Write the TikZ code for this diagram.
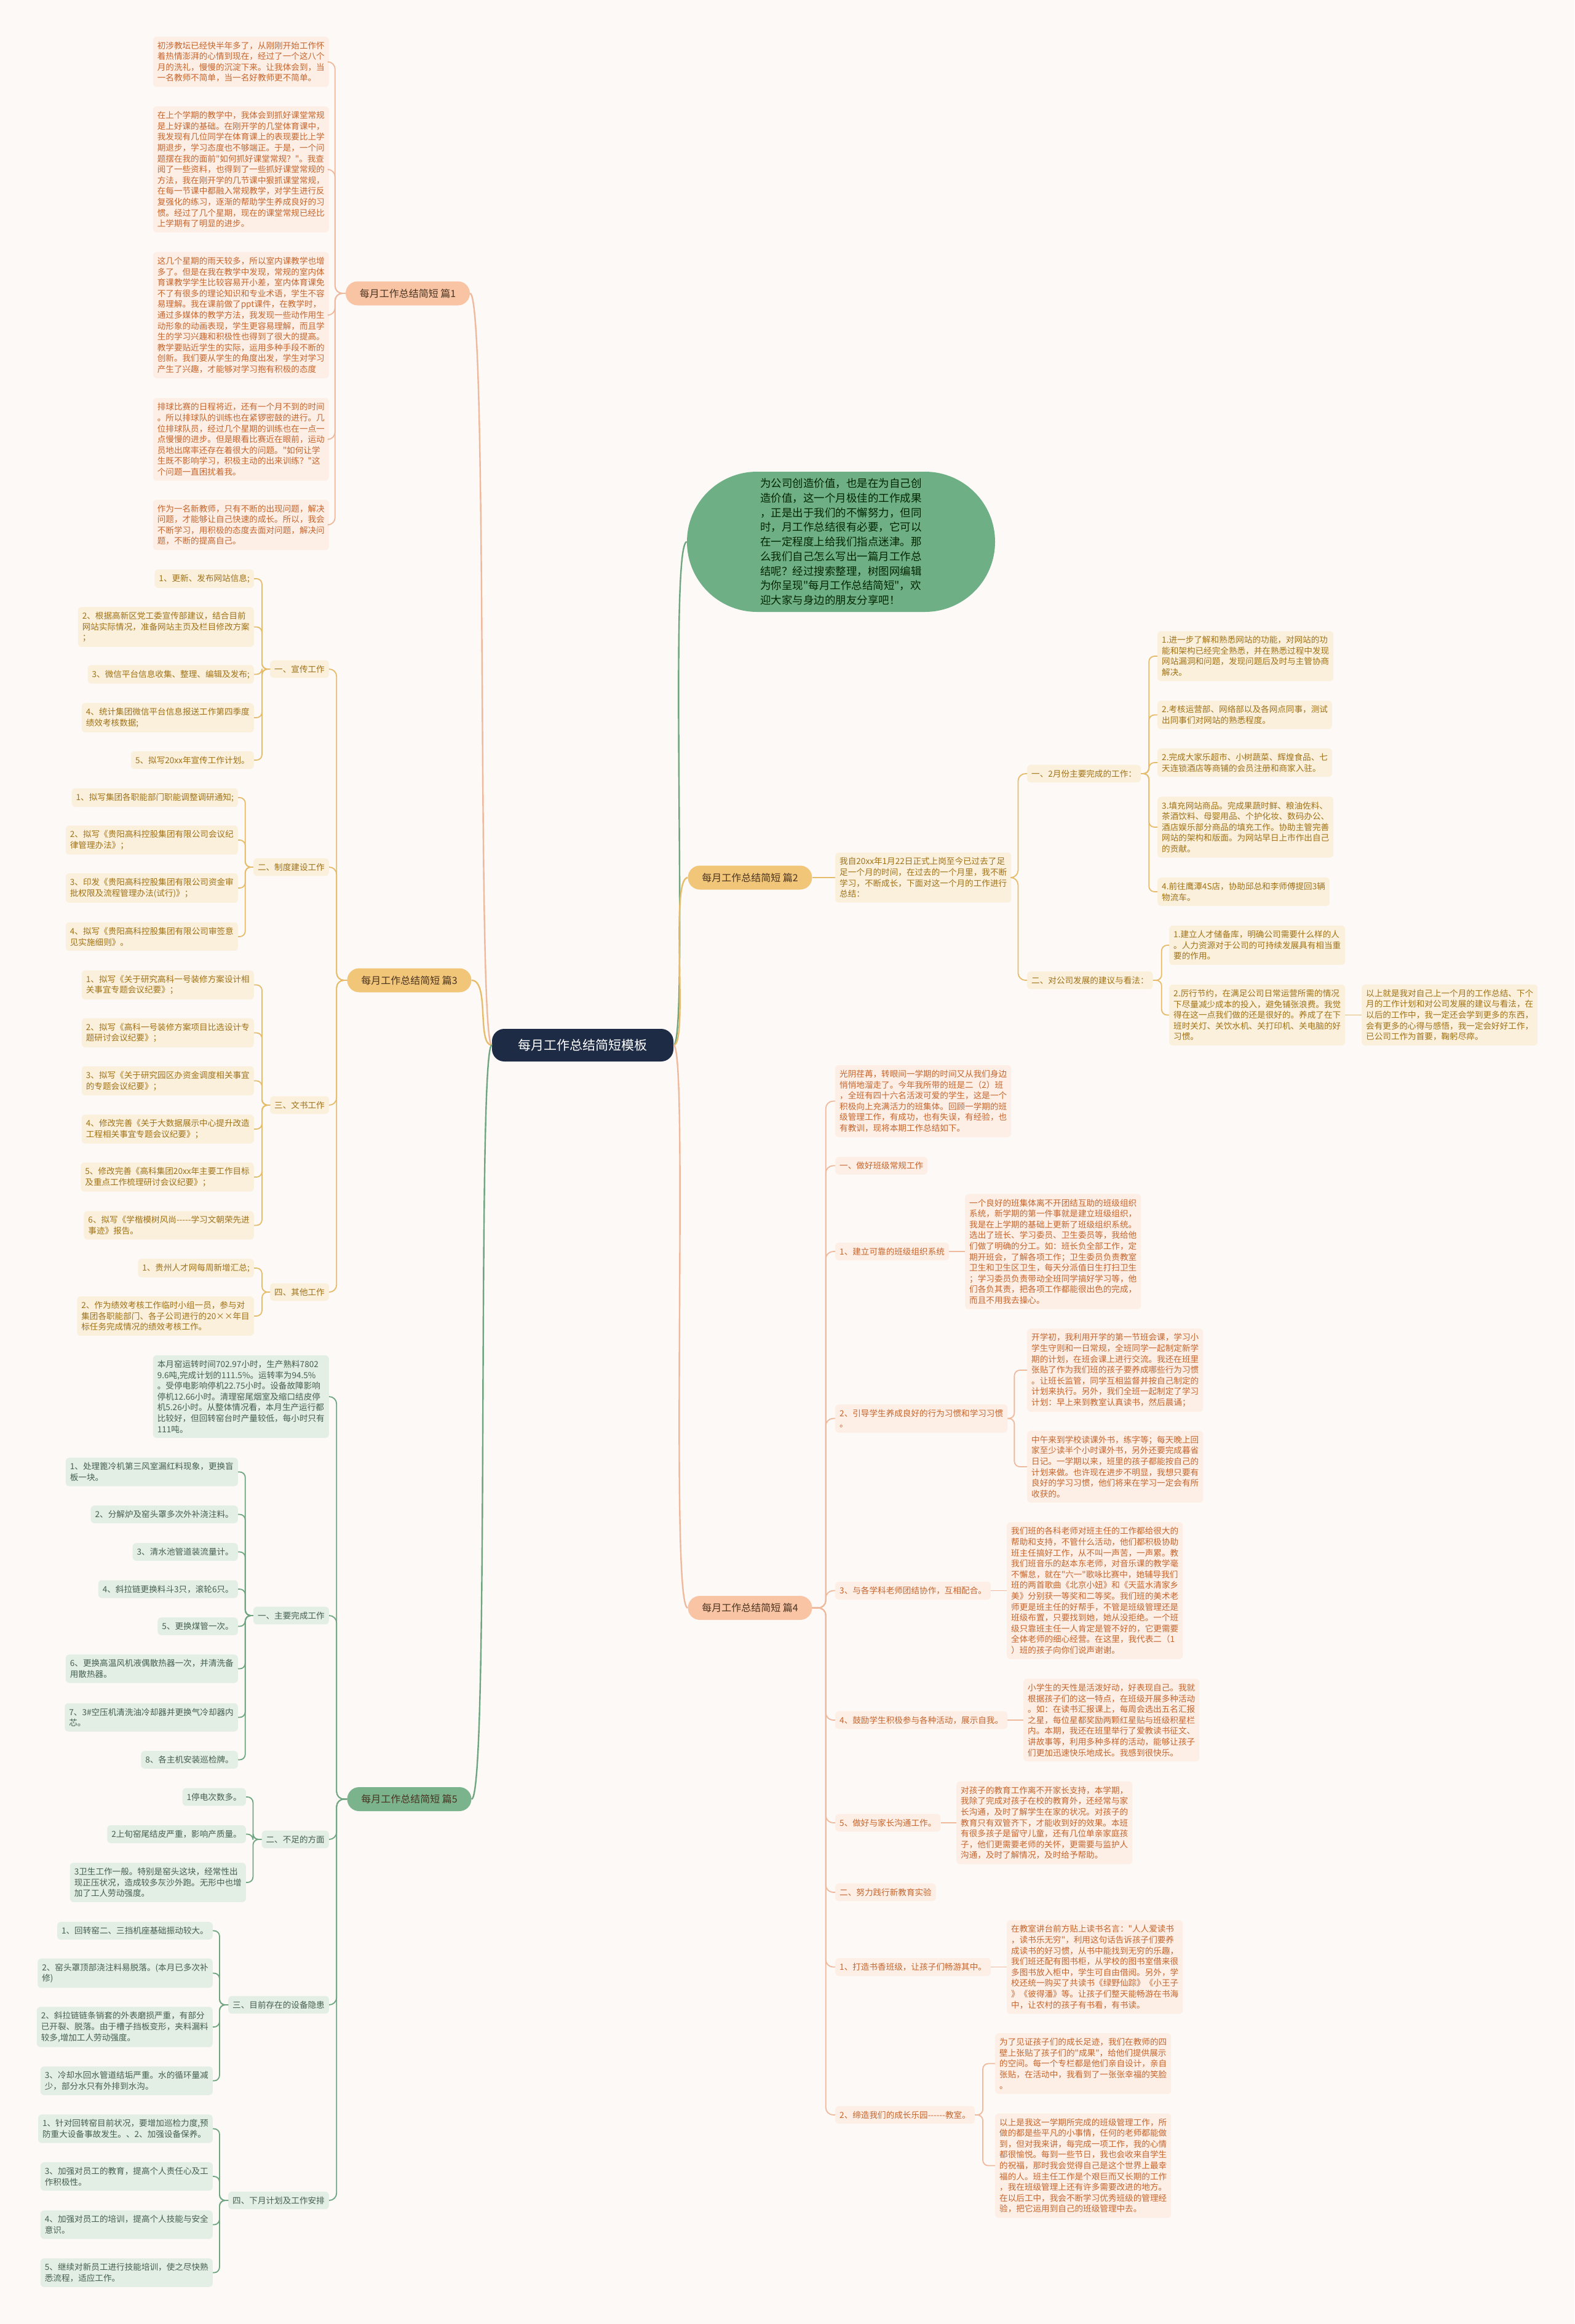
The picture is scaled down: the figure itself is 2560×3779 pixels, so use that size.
\documentclass[tikz,border=0pt]{standalone}
\usepackage{fontspec}
\newfontfamily\cjk{Noto Sans CJK SC}
\definecolor{bg}{HTML}{FCF9F6}
\definecolor{sline}{HTML}{EEB99D}
\definecolor{sfill}{HTML}{FDEFE5}
\definecolor{stext}{HTML}{C5652E}
\definecolor{spill}{HTML}{F8C4A4}
\definecolor{gline}{HTML}{E6BC6A}
\definecolor{gfill}{HTML}{FBF0DC}
\definecolor{gtext}{HTML}{A07218}
\definecolor{gpill}{HTML}{F1C679}
\definecolor{nline}{HTML}{6FA681}
\definecolor{nfill}{HTML}{E3EEE4}
\definecolor{ntext}{HTML}{45604F}
\definecolor{npill}{HTML}{7BB38C}
\definecolor{introc}{HTML}{6FAF86}
\definecolor{rootc}{HTML}{1E2B45}
\definecolor{pilltext}{HTML}{4A3320}
\newcommand\lf{\cjk\fontsize{13.6}{17.6}\selectfont}
\newcommand\hy{-\kern0pt}
\begin{document}
\begin{tikzpicture}[x=1pt,y=-1pt,
  leaf/.style={rounded corners=6pt, inner xsep=7pt, inner ysep=8pt, align=left, font=\lf},
  lS/.style={leaf, fill=sfill, text=stext},
  lG/.style={leaf, fill=gfill, text=gtext},
  lN/.style={leaf, fill=nfill, text=ntext},
  cS/.style={draw=sline, line width=1.8pt, rounded corners=9pt},
  cG/.style={draw=gline, line width=1.8pt, rounded corners=9pt},
  cN/.style={draw=nline, line width=1.8pt, rounded corners=9pt},
  mS/.style={draw=sline, line width=2.4pt},
  mG/.style={draw=gline, line width=2.4pt},
  mN/.style={draw=nline, line width=2.4pt},
  pill/.style={rounded corners=19.5pt, minimum height=39pt, minimum width=202pt, inner sep=0pt, text=pilltext, font=\cjk\fontsize{16}{18}\selectfont}
]
\path[fill=bg] (0,0) rectangle (2560,3779);

% ---------- root and intro ----------
\node[fill=rootc, text=white, rounded corners=20pt, minimum width=295pt, minimum height=53pt, inner sep=0pt, font=\cjk\fontsize{21}{24}\selectfont] (root) at (947.5,1699.5) {每月工作总结简短模板};
\node[fill=introc, text=black!85!green, rounded corners=114pt, minimum width=501pt, minimum height=228pt, align=left, font=\cjk\fontsize{17.5}{23.7}\selectfont] (intro) at (1367.5,881) {为公司创造价值，也是在为自己创\\造价值，这一个月极佳的工作成果\\，正是出于我们的不懈努力，但同\\时，月工作总结很有必要，它可以\\在一定程度上给我们指点迷津。那\\么我们自己怎么写出一篇月工作总\\结呢？经过搜索整理，树图网编辑\\为你呈现"每月工作总结简短"，欢\\迎大家与身边的朋友分享吧！};

% ---------- main branches ----------
\node[pill, fill=spill] (p1) at (663,477) {每月工作总结简短 篇1};
\node[pill, fill=gpill] (p3) at (665.5,1594) {每月工作总结简短 篇3};
\node[pill, fill=npill] (p5) at (665.5,2925.5) {每月工作总结简短 篇5};
\node[pill, fill=gpill] (p2) at (1219.5,1427) {每月工作总结简短 篇2};
\node[pill, fill=spill] (p4) at (1219.5,2614.5) {每月工作总结简短 篇4};

% ---------- 篇1 ----------
\node[lS, anchor=east] (a1) at (535,100.5) {初涉教坛已经快半年多了，从刚刚开始工作怀\\着热情澎湃的心情到现在，经过了一个这八个\\月的洗礼，慢慢的沉淀下来。让我体会到，当\\一名教师不简单，当一名好教师更不简单。};
\node[lS, anchor=east] (a2) at (535,275.5) {在上个学期的教学中，我体会到抓好课堂常规\\是上好课的基础。在刚开学的几堂体育课中，\\我发现有几位同学在体育课上的表现要比上学\\期退步，学习态度也不够端正。于是，一个问\\题摆在我的面前"如何抓好课堂常规？"。我查\\阅了一些资料，也得到了一些抓好课堂常规的\\方法，我在刚开学的几节课中狠抓课堂常规，\\在每一节课中都融入常规教学，对学生进行反\\复强化的练习，逐渐的帮助学生养成良好的习\\惯。经过了几个星期，现在的课堂常规已经比\\上学期有了明显的进步。};
\node[lS, anchor=east] (a3) at (535,512.5) {这几个星期的雨天较多，所以室内课教学也增\\多了。但是在我在教学中发现，常规的室内体\\育课教学学生比较容易开小差，室内体育课免\\不了有很多的理论知识和专业术语，学生不容\\易理解。我在课前做了ppt课件，在教学时，\\通过多媒体的教学方法，我发现一些动作用生\\动形象的动画表现，学生更容易理解，而且学\\生的学习兴趣和积极性也得到了很大的提高。\\教学要贴近学生的实际，运用多种手段不断的\\创新。我们要从学生的角度出发，学生对学习\\产生了兴趣，才能够对学习抱有积极的态度};
\node[lS, anchor=east] (a4) at (535,714.5) {排球比赛的日程将近，还有一个月不到的时间\\。所以排球队的训练也在紧锣密鼓的进行。几\\位排球队员，经过几个星期的训练也在一点一\\点慢慢的进步。但是眼看比赛近在眼前，运动\\员地出席率还存在着很大的问题。"如何让学\\生既不影响学习，积极主动的出来训练？"这\\个问题一直困扰着我。};
\node[lS, anchor=east] (a5) at (535,853.5) {作为一名新教师，只有不断的出现问题，解决\\问题，才能够让自己快速的成长。所以，我会\\不断学习，用积极的态度去面对问题，解决问\\题，不断的提高自己。};

% ---------- 篇3 ----------
\node[lG, anchor=east] (b1) at (535,1088) {一、宣传工作};
\node[lG, anchor=east] (b11) at (413,941) {1、更新、发布网站信息;};
\node[lG, anchor=east] (b12) at (413,1019.5) {2、根据高新区党工委宣传部建议，结合目前\\网站实际情况，准备网站主页及栏目修改方案\\；};
\node[lG, anchor=east] (b13) at (413,1096.5) {3、微信平台信息收集、整理、编辑及发布;};
\node[lG, anchor=east] (b14) at (413,1167) {4、统计集团微信平台信息报送工作第四季度\\绩效考核数据;};
\node[lG, anchor=east] (b15) at (413,1236) {5、拟写20xx年宣传工作计划。};
\node[lG, anchor=east] (b2) at (535,1410) {二、制度建设工作};
\node[lG, anchor=east] (b21) at (387,1297) {1、拟写集团各职能部门职能调整调研通知;};
\node[lG, anchor=east] (b22) at (387,1366) {2、拟写《贵阳高科控股集团有限公司会议纪\\律管理办法》；};
\node[lG, anchor=east] (b23) at (387,1444) {3、印发《贵阳高科控股集团有限公司资金审\\批权限及流程管理办法(试行)》；};
\node[lG, anchor=east] (b24) at (387,1523) {4、拟写《贵阳高科控股集团有限公司审签意\\见实施细则》。};
\node[lG, anchor=east] (b3) at (535,1797) {三、文书工作};
\node[lG, anchor=east] (b31) at (413,1601.5) {1、拟写《关于研究高科一号装修方案设计相\\关事宜专题会议纪要》；};
\node[lG, anchor=east] (b32) at (413,1679.5) {2、拟写《高科一号装修方案项目比选设计专\\题研讨会议纪要》；};
\node[lG, anchor=east] (b33) at (413,1757.5) {3、拟写《关于研究园区办资金调度相关事宜\\的专题会议纪要》；};
\node[lG, anchor=east] (b34) at (413,1836) {4、修改完善《关于大数据展示中心提升改造\\工程相关事宜专题会议纪要》；};
\node[lG, anchor=east] (b35) at (413,1914) {5、修改完善《高科集团20xx年主要工作目标\\及重点工作梳理研讨会议纪要》；};
\node[lG, anchor=east] (b36) at (413,1992.5) {6、拟写《学楷模树风尚\hy\hy\hy\hy-学习文朝荣先进\\事迹》报告。};
\node[lG, anchor=east] (b4) at (535,2101) {四、其他工作};
\node[lG, anchor=east] (b41) at (413,2062) {1、贵州人才网每周新增汇总;};
\node[lG, anchor=east] (b42) at (413,2140) {2、作为绩效考核工作临时小组一员，参与对\\集团各职能部门、各子公司进行的20××年目\\标任务完成情况的绩效考核工作。};

% ---------- 篇5 ----------
\node[lN, anchor=east] (c0) at (535,2271) {本月窑运转时间702.97小时，生产熟料7802\\9.6吨,完成计划的111.5\%。运转率为94.5\%\\。受停电影响停机22.75小时。设备故障影响\\停机12.66小时。清理窑尾烟室及缩口结皮停\\机5.26小时。从整体情况看，本月生产运行都\\比较好，但回转窑台时产量较低，每小时只有\\111吨。};
\node[lN, anchor=east] (c1) at (535,2627) {一、主要完成工作};
\node[lN, anchor=east] (c11) at (387,2393.5) {1、处理篦冷机第三风室漏红料现象，更换盲\\板一块。};
\node[lN, anchor=east] (c12) at (387,2462.5) {2、分解炉及窑头罩多次外补浇注料。};
\node[lN, anchor=east] (c13) at (387,2523.5) {3、清水池管道装流量计。};
\node[lN, anchor=east] (c14) at (387,2584) {4、斜拉链更换料斗3只，滚轮6只。};
\node[lN, anchor=east] (c15) at (387,2644.5) {5、更换煤管一次。};
\node[lN, anchor=east] (c16) at (387,2713.5) {6、更换高温风机液偶散热器一次，并清洗备\\用散热器。};
\node[lN, anchor=east] (c17) at (387,2792.5) {7、3\#空压机清洗油冷却器并更换气冷却器内\\芯。};
\node[lN, anchor=east] (c18) at (387,2861.5) {8、各主机安装巡检牌。};
\node[lN, anchor=east] (c2) at (535,2991) {二、不足的方面};
\node[lN, anchor=east] (c21) at (400,2922) {1停电次数多。};
\node[lN, anchor=east] (c22) at (400,2982.5) {2上旬窑尾结皮严重，影响产质量。};
\node[lN, anchor=east] (c23) at (400,3061) {3卫生工作一般。特别是窑头这块，经常性出\\现正压状况，造成较多灰沙外跑。无形中也增\\加了工人劳动强度。};
\node[lN, anchor=east] (c3) at (535,3260) {三、目前存在的设备隐患};
\node[lN, anchor=east] (c31) at (346,3139.5) {1、回转窑二、三挡机座基础振动较大。};
\node[lN, anchor=east] (c32) at (346,3208.5) {2、窑头罩顶部浇注料易脱落。(本月已多次补\\修)};
\node[lN, anchor=east] (c33) at (346,3296) {2、斜拉链链条销套的外表磨损严重，有部分\\已开裂、脱落。由于槽子挡板变形，夹料漏料\\较多,增加工人劳动强度。};
\node[lN, anchor=east] (c34) at (346,3383.5) {3、冷却水回水管道结垢严重。水的循环量减\\少，部分水只有外排到水沟。};
\node[lN, anchor=east] (c4) at (535,3578) {四、下月计划及工作安排};
\node[lN, anchor=east] (c41) at (346,3461.5) {1、针对回转窑目前状况，要增加巡检力度,预\\防重大设备事故发生。、2、加强设备保养。};
\node[lN, anchor=east] (c42) at (346,3539) {3、加强对员工的教育，提高个人责任心及工\\作积极性。};
\node[lN, anchor=east] (c43) at (346,3617.5) {4、加强对员工的培训，提高个人技能与安全\\意识。};
\node[lN, anchor=east] (c44) at (346,3695.5) {5、继续对新员工进行技能培训，使之尽快熟\\悉流程，适应工作。};

% ---------- 篇2 ----------
\node[lG, anchor=west] (d0) at (1358,1427) {我自20xx年1月22日正式上岗至今已过去了足\\足一个月的时间，在过去的一个月里，我不断\\学习，不断成长，下面对这一个月的工作进行\\总结：};
\node[lG, anchor=west] (d1) at (1670,1258) {一、2月份主要完成的工作：};
\node[lG, anchor=west] (d11) at (1882,1067) {1.进一步了解和熟悉网站的功能，对网站的功\\能和架构已经完全熟悉，并在熟悉过程中发现\\网站漏洞和问题，发现问题后及时与主管协商\\解决。};
\node[lG, anchor=west] (d12) at (1882,1162.5) {2.考核运营部、网络部以及各网点同事，测试\\出同事们对网站的熟悉程度。};
\node[lG, anchor=west] (d13) at (1882,1240) {2.完成大家乐超市、小树蔬菜、辉煌食品、七\\天连锁酒店等商铺的会员注册和商家入驻。};
\node[lG, anchor=west] (d14) at (1882,1345) {3.填充网站商品。完成果蔬时鲜、粮油佐料、\\茶酒饮料、母婴用品、个护化妆、数码办公、\\酒店娱乐部分商品的填充工作。协助主管完善\\网站的架构和版面。为网站早日上市作出自己\\的贡献。};
\node[lG, anchor=west] (d15) at (1882,1450) {4.前往鹰潭4S店，协助邱总和李师傅提回3辆\\物流车。};
\node[lG, anchor=west] (d2) at (1670,1594) {二、对公司发展的建议与看法：};
\node[lG, anchor=west] (d21) at (1901,1537) {1.建立人才储备库，明确公司需要什么样的人\\。人力资源对于公司的可持续发展具有相当重\\要的作用。};
\node[lG, anchor=west] (d22) at (1901,1650.5) {2.厉行节约，在满足公司日常运营所需的情况\\下尽量减少成本的投入，避免铺张浪费。我觉\\得在这一点我们做的还是很好的。养成了在下\\班时关灯、关饮水机、关打印机、关电脑的好\\习惯。};
\node[lG, anchor=west] (d3) at (2214,1650.5) {以上就是我对自己上一个月的工作总结、下个\\月的工作计划和对公司发展的建议与看法，在\\以后的工作中，我一定还会学到更多的东西，\\会有更多的心得与感悟，我一定会好好工作，\\已公司工作为首要，鞠躬尽瘁。};

% ---------- 篇4 ----------
\node[lS, anchor=west] (e0) at (1358,1790.5) {光阴荏苒，转眼间一学期的时间又从我们身边\\悄悄地溜走了。今年我所带的班是二（2）班\\，全班有四十六名活泼可爱的学生，这是一个\\积极向上充满活力的班集体。回顾一学期的班\\级管理工作，有成功，也有失误，有经验，也\\有教训，现将本期工作总结如下。};
\node[lS, anchor=west] (e1) at (1358,1895.5) {一、做好班级常规工作};
\node[lS, anchor=west] (e2) at (1358,2035) {1、建立可靠的班级组织系统};
\node[lS, anchor=west] (e2a) at (1569,2035) {一个良好的班集体离不开团结互助的班级组织\\系统，新学期的第一件事就是建立班级组织，\\我是在上学期的基础上更新了班级组织系统。\\选出了班长、学习委员、卫生委员等，我给他\\们做了明确的分工。如：班长负全部工作，定\\期开班会，了解各项工作；卫生委员负责教室\\卫生和卫生区卫生，每天分派值日生打扫卫生\\；学习委员负责带动全班同学搞好学习等，他\\们各负其责，把各项工作都能很出色的完成，\\而且不用我去操心。};
\node[lS, anchor=west] (e3) at (1358,2306.5) {2、引导学生养成良好的行为习惯和学习习惯\\。};
\node[lS, anchor=west] (e3a) at (1670,2228) {开学初，我利用开学的第一节班会课，学习小\\学生守则和一日常规，全班同学一起制定新学\\期的计划，在班会课上进行交流。我还在班里\\张贴了作为我们班的孩子要养成哪些行为习惯\\。让班长监管，同学互相监督并按自己制定的\\计划来执行。另外，我们全班一起制定了学习\\计划：早上来到教室认真读书，然后晨诵；};
\node[lS, anchor=west] (e3b) at (1670,2385) {中午来到学校读课外书，练字等；每天晚上回\\家至少读半个小时课外书，另外还要完成暮省\\日记。一学期以来，班里的孩子都能按自己的\\计划来做。也许现在进步不明显，我想只要有\\良好的学习习惯，他们将来在学习一定会有所\\收获的。};
\node[lS, anchor=west] (e4) at (1358,2586.5) {3、与各学科老师团结协作，互相配合。};
\node[lS, anchor=west] (e4a) at (1637,2586.5) {我们班的各科老师对班主任的工作都给很大的\\帮助和支持，不管什么活动，他们都积极协助\\班主任搞好工作，从不叫一声苦，一声累。教\\我们班音乐的赵本东老师，对音乐课的教学毫\\不懈怠，就在"六一"歌咏比赛中，她辅导我们\\班的两首歌曲《北京小妞》和《天蓝水清家乡\\美》分别获一等奖和二等奖。我们班的美术老\\师更是班主任的好帮手，不管是班级管理还是\\班级布置，只要找到她，她从没拒绝。一个班\\级只靠班主任一人肯定是管不好的，它更需要\\全体老师的细心经营。在这里，我代表二（1\\）班的孩子向你们说声谢谢。};
\node[lS, anchor=west] (e5) at (1358,2797) {4、鼓励学生积极参与各种活动，展示自我。};
\node[lS, anchor=west] (e5a) at (1664,2797) {小学生的天性是活泼好动，好表现自己。我就\\根据孩子们的这一特点，在班级开展多种活动\\。如：在读书汇报课上，每周会选出五名汇报\\之星，每位星都奖励两颗红星贴与班级积星栏\\内。本期，我还在班里举行了爱教读书征文、\\讲故事等，利用多种多样的活动，能够让孩子\\们更加迅速快乐地成长。我感到很快乐。};
\node[lS, anchor=west] (e6) at (1358,2964) {5、做好与家长沟通工作。};
\node[lS, anchor=west] (e6a) at (1555,2964) {对孩子的教育工作离不开家长支持，本学期，\\我除了完成对孩子在校的教育外，还经常与家\\长沟通，及时了解学生在家的状况。对孩子的\\教育只有双管齐下，才能收到好的效果。本班\\有很多孩子是留守儿童，还有几位单亲家庭孩\\子，他们更需要老师的关怀，更需要与监护人\\沟通，及时了解情况，及时给予帮助。};
\node[lS, anchor=west] (e7) at (1358,3077) {二、努力践行新教育实验};
\node[lS, anchor=west] (e8) at (1358,3198.5) {1、打造书香班级，让孩子们畅游其中。};
\node[lS, anchor=west] (e8a) at (1637,3198.5) {在教室讲台前方贴上读书名言："人人爱读书\\，读书乐无穷"，利用这句话告诉孩子们要养\\成读书的好习惯，从书中能找到无穷的乐趣，\\我们班还配有图书柜，从学校的图书室借来很\\多图书放入柜中，学生可自由借阅。另外，学\\校还统一购买了共读书《绿野仙踪》《小王子\\》《彼得潘》等。让孩子们整天能畅游在书海\\中，让农村的孩子有书看，有书读。};
\node[lS, anchor=west] (e9) at (1358,3439) {2、缔造我们的成长乐园\hy\hy\hy\hy\hy-教室。};
\node[lS, anchor=west] (e9a) at (1618,3355.5) {为了见证孩子们的成长足迹，我们在教师的四\\壁上张贴了孩子们的"成果"，给他们提供展示\\的空间。每一个专栏都是他们亲自设计，亲自\\张贴，在活动中，我看到了一张张幸福的笑脸\\。};
\node[lS, anchor=west] (e9b) at (1618,3521.5) {以上是我这一学期所完成的班级管理工作，所\\做的都是些平凡的小事情，任何的老师都能做\\到，但对我来讲，每完成一项工作，我的心情\\都很愉悦。每到一些节日，我也会收来自学生\\的祝福，那时我会觉得自己是这个世界上最幸\\福的人。班主任工作是个艰巨而又长期的工作\\，我在班级管理上还有许多需要改进的地方。\\在以后工中，我会不断学习优秀班级的管理经\\验，把它运用到自己的班级管理中去。};

% ---------- connectors: root ----------
\draw[mS] (root.west) .. controls +(-25,0) and +(30,0) .. (p1.east);
\draw[mG] (root.west) .. controls +(-25,0) and +(30,0) .. (p3.east);
\draw[mN] (root.west) .. controls +(-25,0) and +(30,0) .. (p5.east);
\draw[mN] (root.east) .. controls +(25,0) and +(-30,0) .. (intro.west);
\draw[mG] (root.east) .. controls +(25,0) and +(-30,0) .. (p2.west);
\draw[mS] (root.east) .. controls +(25,0) and +(-30,0) .. (p4.west);

% ---------- connectors: left ----------
\foreach \n in {a1,a2,a3,a4,a5} \draw[cS, rounded corners=12pt] (p1.west) -- ++(-17,0) |- (\n.east);
\foreach \n in {b1,b2,b3,b4} \draw[cG, rounded corners=12pt] (p3.west) -- ++(-17,0) |- (\n.east);
\foreach \n in {b11,b12,b13,b14,b15} \draw[cG] (b1.west) -- ++(-13,0) |- (\n.east);
\foreach \n in {b21,b22,b23,b24} \draw[cG] (b2.west) -- ++(-13,0) |- (\n.east);
\foreach \n in {b31,b32,b33,b34,b35,b36} \draw[cG] (b3.west) -- ++(-13,0) |- (\n.east);
\foreach \n in {b41,b42} \draw[cG] (b4.west) -- ++(-13,0) |- (\n.east);
\foreach \n in {c0,c1,c2,c3,c4} \draw[cN, rounded corners=12pt] (p5.west) -- ++(-17,0) |- (\n.east);
\foreach \n in {c11,c12,c13,c14,c15,c16,c17,c18} \draw[cN] (c1.west) -- ++(-13,0) |- (\n.east);
\foreach \n in {c21,c22,c23} \draw[cN] (c2.west) -- ++(-14,0) |- (\n.east);
\foreach \n in {c31,c32,c33,c34} \draw[cN] (c3.west) -- ++(-14,0) |- (\n.east);
\foreach \n in {c41,c42,c43,c44} \draw[cN] (c4.west) -- ++(-14,0) |- (\n.east);

% ---------- connectors: right ----------
\draw[cG] (p2.east) -- (d0.west);
\foreach \n in {d1,d2} \draw[cG, rounded corners=12pt] (d0.east) -- ++(11,0) |- (\n.west);
\foreach \n in {d11,d12,d13,d14,d15} \draw[cG] (d1.east) -- ++(13,0) |- (\n.west);
\foreach \n in {d21,d22} \draw[cG] (d2.east) -- ++(14,0) |- (\n.west);
\draw[cG] (d22.east) -- (d3.west);
\foreach \n in {e0,e1,e2,e3,e4,e5,e6,e7,e8,e9} \draw[cS, rounded corners=12pt] (p4.east) -- ++(22,0) |- (\n.west);
\draw[cS] (e2.east) -- (e2a.west);
\foreach \n in {e3a,e3b} \draw[cS] (e3.east) -- ++(11,0) |- (\n.west);
\draw[cS] (e4.east) -- (e4a.west);
\draw[cS] (e5.east) -- (e5a.west);
\draw[cS] (e6.east) -- (e6a.west);
\draw[cS] (e8.east) -- (e8a.west);
\foreach \n in {e9a,e9b} \draw[cS] (e9.east) -- ++(13,0) |- (\n.west);
\end{tikzpicture}
\end{document}
